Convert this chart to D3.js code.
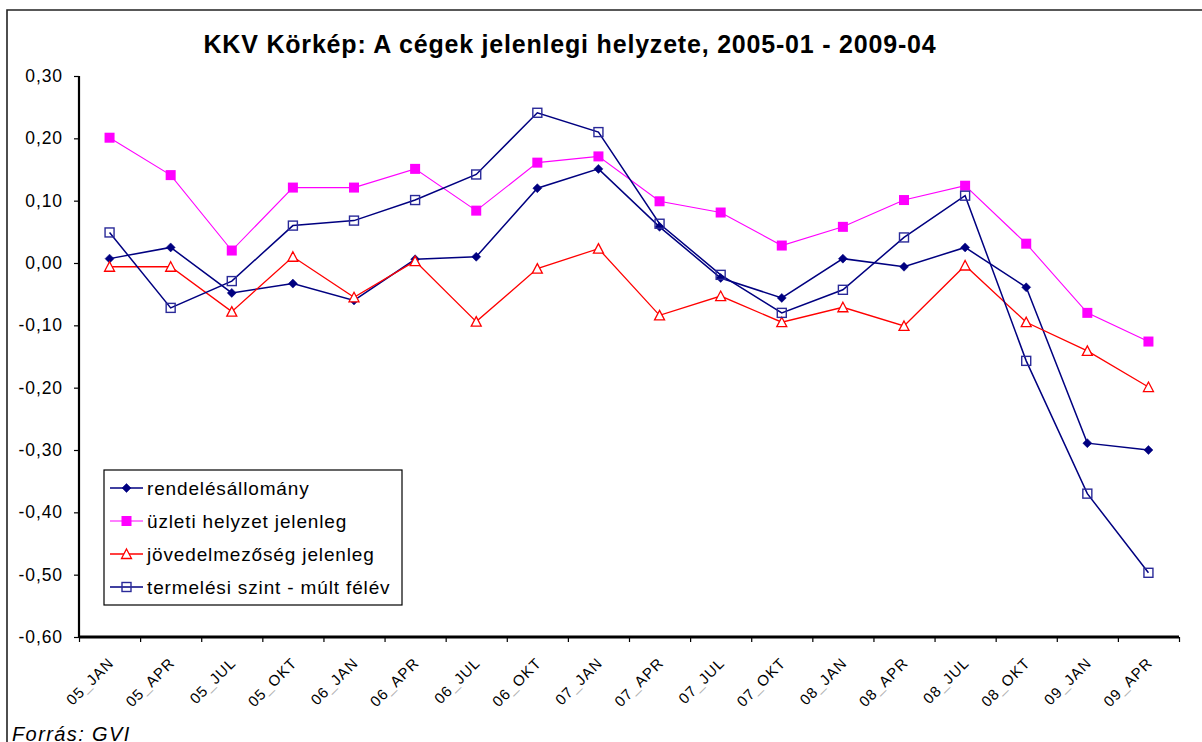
<!DOCTYPE html>
<html><head><meta charset="utf-8">
<script src="https://cdn.jsdelivr.net/npm/d3@7"></script>
<style>
body{margin:0;background:#fff;}
svg{display:block;font-family:"Liberation Sans",Arial,sans-serif;}
</style></head>
<body>
<svg id="chart" width="1202" height="742"></svg>
<script>
const categories = ["05_JAN","05_APR","05_JUL","05_OKT","06_JAN","06_APR","06_JUL","06_OKT","07_JAN","07_APR","07_JUL","07_OKT","08_JAN","08_APR","08_JUL","08_OKT","09_JAN","09_APR"];
const rendelesallomany = [0.007,0.025,-0.048,-0.033,-0.060,0.006,0.010,0.120,0.151,0.058,-0.024,-0.056,0.007,-0.006,0.025,-0.039,-0.289,-0.300];
const uzletiHelyzet = [0.201,0.141,0.020,0.121,0.121,0.151,0.084,0.161,0.171,0.099,0.081,0.028,0.058,0.101,0.124,0.031,-0.080,-0.126];
const jovedelmezoseg = [-0.006,-0.006,-0.078,0.010,-0.055,0.003,-0.094,-0.009,0.023,-0.084,-0.053,-0.095,-0.071,-0.101,-0.004,-0.095,-0.141,-0.199];
const termelesiSzint = [0.049,-0.072,-0.029,0.060,0.068,0.101,0.142,0.241,0.210,0.063,-0.019,-0.080,-0.043,0.041,0.108,-0.157,-0.370,-0.497];
const seriesNames = ["rendelésállomány","üzleti helyzet jelenleg","jövedelmezőség  jelenleg","termelési szint - múlt félév"];
const yTicks = [-0.6,-0.5,-0.4,-0.3,-0.2,-0.1,0,0.1,0.2,0.3];
const yTickLabels = ["-0,60","-0,50","-0,40","-0,30","-0,20","-0,10","0,00","0,10","0,20","0,30"];
const titleText = "KKV Körkép: A cégek jelenlegi helyzete, 2005-01 - 2009-04";
const sourceText = "Forrás: GVI";

const svg = d3.select("#chart");
const L = 79, R = 1179, T = 76, B = 637;
const x = d3.scaleBand().domain(categories).range([L, R]);
const xEdge = d3.scaleLinear().domain([0, categories.length]).range([L, R]);
const y = d3.scaleLinear().domain([-0.6, 0.3]).range([B, T]);

// outer frame
svg.append("path").attr("d", "M7,742 V10 H1202").attr("fill","none").attr("stroke","#222").attr("stroke-width",1.6);

// title
svg.append("text").attr("x", 570).attr("y", 53).attr("text-anchor","middle")
  .attr("font-size", 25).attr("font-weight","bold").attr("letter-spacing", 0.8).text(titleText);

// y axis
const yAxis = svg.append("g").attr("transform", `translate(${L},0)`)
  .call(d3.axisLeft(y).tickValues(yTicks).tickSize(5).tickPadding(11)
    .tickFormat((d,i) => yTickLabels[i]));
yAxis.select(".domain").attr("stroke","#000").attr("stroke-width",2.2).attr("d", `M0,${T}V${B}`);
yAxis.selectAll(".tick line").attr("stroke","#000").attr("stroke-width",1.2);
yAxis.selectAll(".tick text").attr("font-size",17.5).attr("letter-spacing",0.9).attr("fill","#000")
  .attr("font-family","Liberation Sans, Arial, sans-serif");

// x axis (ticks at category boundaries)
const xAxis = svg.append("g").attr("transform", `translate(0,${B})`)
  .call(d3.axisBottom(xEdge).tickValues(d3.range(0, categories.length + 1)).tickSize(5).tickFormat(""));
xAxis.select(".domain").attr("stroke","#000").attr("stroke-width",2.8).attr("d", `M${L},0H${R}`);
xAxis.selectAll(".tick line").attr("stroke","#000").attr("stroke-width",1.2);

// x labels
const xl = svg.append("g").selectAll("text").data(categories).join("text")
  .attr("transform", d => `translate(${x(d) + x.bandwidth()/2 + 5},${B + 27}) rotate(-45)`)
  .attr("text-anchor","end").attr("font-size",15).attr("letter-spacing",1).attr("fill","#000");
xl.each(function(d) {
  const parts = d.split("_");
  const t = d3.select(this);
  t.append("tspan").text(parts[0]);
  t.append("tspan").attr("fill","#b0b0b0").text("_");
  t.append("tspan").text(parts[1]);
});

// series definitions
const series = [
  {name: seriesNames[0], values: rendelesallomany, color:"#000080", width:1.5, marker:"diamond"},
  {name: seriesNames[1], values: uzletiHelyzet, color:"#FF00FF", width:1.1, marker:"fsquare"},
  {name: seriesNames[2], values: jovedelmezoseg, color:"#FF0000", width:1.3, marker:"triangle"},
  {name: seriesNames[3], values: termelesiSzint, color:"#000080", width:1.5, marker:"osquare"}
];

function drawMarker(g, type, color) {
  if (type === "diamond") {
    g.append("path").attr("d","M0,-4.5L4.5,0L0,4.5L-4.5,0Z").attr("fill",color).attr("stroke",color).attr("stroke-width",0.5);
  } else if (type === "fsquare") {
    g.append("rect").attr("x",-5).attr("y",-5).attr("width",10).attr("height",10).attr("fill",color);
  } else if (type === "triangle") {
    g.append("path").attr("d","M0,-5L5,4.5L-5,4.5Z").attr("fill","#fff").attr("stroke",color).attr("stroke-width",1.3);
  } else if (type === "osquare") {
    g.append("rect").attr("x",-4.5).attr("y",-4.5).attr("width",9).attr("height",9).attr("fill","none").attr("stroke","#2a2a99").attr("stroke-width",1.4);
  }
}

const line = d3.line().x((d,i) => x(categories[i]) + x.bandwidth()/2).y(d => y(d));
series.forEach(s => {
  const g = svg.append("g");
  g.append("path").datum(s.values).attr("d", line).attr("fill","none")
    .attr("stroke", s.color).attr("stroke-width", s.width);
  s.values.forEach((v,i) => {
    const mg = g.append("g").attr("transform", `translate(${x(categories[i]) + x.bandwidth()/2},${y(v)})`);
    drawMarker(mg, s.marker, s.color);
  });
});

// legend
const lg = svg.append("g");
lg.append("rect").attr("x",104).attr("y",470).attr("width",298).attr("height",135)
  .attr("fill","#fff").attr("stroke","#000").attr("stroke-width",1.2);
series.forEach((s,i) => {
  const cy = 488 + i*33;
  lg.append("line").attr("x1",110).attr("x2",143).attr("y1",cy).attr("y2",cy)
    .attr("stroke", s.color).attr("stroke-width", s.width);
  const mg = lg.append("g").attr("transform", `translate(126.5,${cy})`);
  drawMarker(mg, s.marker, s.color);
  lg.append("text").attr("x",147).attr("y",cy + 6.8).attr("font-size",19).attr("letter-spacing",0.85)
    .attr("fill","#000").text(s.name);
});

// source
svg.append("text").attr("x",12).attr("y",741).attr("font-size",20).attr("font-style","italic")
  .attr("letter-spacing",1.4).attr("fill","#000").text(sourceText);
</script>
</body></html>
